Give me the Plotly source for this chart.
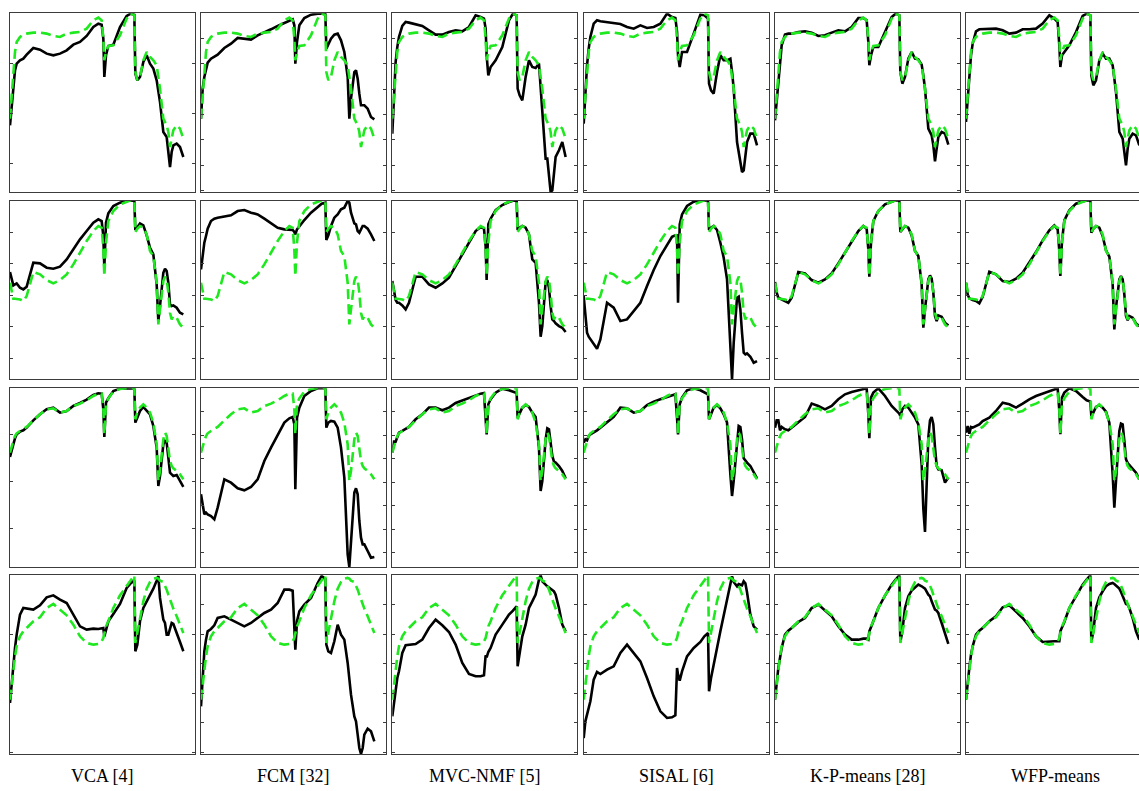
import numpy as np
import plotly.graph_objects as go

# ---------------- data ----------------
METHODS = ["VCA [4]", "FCM [32]", "MVC-NMF [5]", "SISAL [6]", "K-P-means [28]", "WFP-means"]

# spectral band positions (common sampling of all signatures)
BANDS = [0, 5, 10, 15, 20, 30, 40, 50, 70, 90, 110, 130, 150, 170, 190, 210, 230, 250,
         265, 275, 280, 283, 288, 295, 310, 330, 350, 362, 373, 376, 382, 390,
         400, 410, 420, 430, 440, 445, 450, 460, 465, 470, 475, 480, 485, 490, 500, 510, 520]

# ---- endmember 1 (row 1) ----
REF_R1 = [44, 56, 72, 84, 90, 93, 94.4, 95, 95.6, 95.6, 95, 93.6, 93, 95, 95.6, 96, 98, 103,
          104.6, 103, 92, 79, 84, 87.6, 88, 94, 104, 107, 106, 72, 67, 69,
          79, 84, 81, 79, 76, 69, 62, 44, 42, 40, 36, 27, 32, 37, 40, 38, 32]
VCA_R1 = [40, 52, 66, 73, 77, 79, 80, 82.4, 86.4, 85.4, 83, 82, 83, 85, 88.4, 90, 93.6, 99,
          101, 100.4, 92, 69, 82, 87.6, 88.4, 99, 105.6, 107, 106.4, 71, 67, 69,
          78, 82, 77, 74, 67, 60, 54, 36, 34, 33, 24, 15, 24, 28, 29, 27, 21]
FCM_R1 = [44, 62, 69, 74, 77.6, 80, 81, 82.4, 86.4, 89, 92.4, 92, 91.4, 94, 95.6, 97.6, 99.6, 101.6,
          103, 103.6, 100, 77, 90, 100, 104.4, 106.4, 107, 107, 107, 86, 88.4, 92,
          94.4, 95, 91, 84, 69, 44, 56, 72, 73, 68, 59, 52, 52, 52, 50, 45, 43.6]
MVC_R1 = [35, 62, 78, 87, 93, 99.6, 102, 101.6, 100.4, 99.6, 97, 94.4, 94.4, 96, 97, 96.4, 99, 106,
          105, 104, 98, 82, 70, 75, 79, 87, 103, 107, 106, 62, 58, 55,
          69, 79, 75, 74.4, 77, 64, 48, 20, 20, 8, 0, 1, 11, 21, 25, 30, 21]
SISAL_R1 = [41, 60, 76, 86, 93, 101, 103, 102.4, 102, 101.6, 100.8, 99, 98, 100, 98.4, 99, 101, 107,
            105, 104.4, 96, 82, 75, 84, 84, 95, 106.4, 106, 104, 65, 61, 59,
            72, 82, 79, 79, 80, 72, 62, 30, 24, 18, 12, 13, 24, 30, 35, 35, 28]
KP_R1 = [43, 55, 68, 79, 88, 94.4, 95, 95, 96, 96.4, 95.6, 93.6, 94, 95.6, 97, 96.4, 99, 104.4,
         104.4, 103, 90, 76, 82, 87, 87, 96, 105, 107, 106, 72, 65, 69,
         80, 84, 80, 79.6, 76.4, 70, 62, 38, 36, 34, 28, 18.4, 26, 33, 36, 35, 28.4]
WFP_R1 = [42, 55, 70, 82, 89, 96.4, 97.6, 97.6, 97.6, 98, 97, 95, 95.6, 97.6, 97.6, 98, 101, 106,
          104, 102, 88, 75, 82, 84, 88, 96, 105.6, 107, 106, 70, 64, 67,
          79, 83, 80, 80, 76, 68, 60, 36, 34, 32, 24, 16, 26, 32, 35, 34, 28]

# ---- endmember 2 (row 2) ----
REF_R2 = [58, 52, 48.4, 48.4, 48.4, 48, 47, 50, 64.4, 63, 59.6, 57.6, 59.6, 63, 69, 76, 83, 89,
          92, 91, 78, 62, 82, 95, 101, 105, 106.6, 107.4, 107.4, 88.4, 90.4, 92,
          91, 87, 77, 74, 58, 33, 42, 59, 61.6, 60, 52, 40, 36, 38, 37, 33, 31]
VCA_R2 = [64.4, 59.6, 56.4, 57, 57.6, 55, 54, 55.6, 70, 69.6, 67, 66.4, 67.6, 72, 78, 84, 89, 94,
          96, 95, 86, 67, 94, 99.6, 104, 106, 107.2, 107.4, 107.4, 89.6, 91.6, 93.6,
          92.4, 86.4, 79, 75, 57, 35, 44, 64, 66.4, 65, 58, 45, 44, 44.4, 43, 40, 39]
FCM_R2 = [66, 76, 82, 86, 90.4, 95, 96.4, 97, 97.6, 98.4, 101, 101.6, 100, 99, 96.4, 93.6, 91, 90,
          90, 89.6, 88.4, 87, 90, 92, 95.6, 100, 103.6, 105.4, 106, 83.6, 86.4, 92,
          97, 99, 102, 103, 107, 106, 100, 93.6, 93, 89, 88, 89.6, 92, 92, 90.4, 87, 83]
MVC_R2 = [59, 52, 47.6, 46, 46, 44.4, 42, 46, 61.6, 61.6, 57, 55, 57.6, 61, 68, 75, 82, 89,
          91.4, 90.4, 80, 59.6, 93, 96.4, 101.6, 104.6, 106.4, 107.2, 107.4, 89.6, 91, 92,
          91, 87, 72, 70, 46, 25.6, 32, 58.4, 59.6, 55, 44, 36, 35, 33.6, 32, 31, 28.4]
SISAL_R2 = [50, 40, 28, 25.6, 24, 21, 18.4, 24, 46, 43, 35, 36, 41, 46, 56, 65.6, 74, 81,
            85.6, 86.4, 86.4, 46, 93, 99, 104, 106.6, 107.4, 107.4, 107.4, 89.6, 91, 92,
            89.6, 82, 73, 60, 18, 0, 22, 49, 49.6, 42, 28, 16, 15, 15.6, 13.6, 10, 11]
KP_R2 = [58.4, 52, 49, 48.4, 48, 47, 46, 49, 64.4, 63.6, 59.6, 58, 60, 63.6, 69.6, 76, 83, 89,
         92, 90.4, 78, 61.6, 82, 95, 101, 105, 106.6, 107.4, 107.4, 88.4, 90, 92,
         91, 86.4, 77, 74, 57, 31, 42, 60, 62.4, 60.4, 52, 38, 35, 38.4, 37.6, 34, 32.4]
WFP_R2 = [58, 51, 48.6, 48, 47.6, 47, 45.6, 49.6, 64.6, 63, 59, 58.4, 60.4, 64, 70, 76.4, 83.4, 89.4,
          92.4, 90, 77, 62, 83, 95.4, 101.4, 105.4, 106.8, 107.4, 107.4, 88, 90.4, 92,
          91, 86, 77.4, 73.6, 57, 30, 43, 60, 62, 60, 51, 38, 35.4, 38, 37, 33.6, 32]

# ---- endmember 3 (row 3) ----
REF_R3 = [68.6, 72.6, 75.6, 78.6, 80.2, 81.6, 82.6, 84, 88, 91.6, 94.6, 95.2, 92.6, 93.6, 96.6, 98, 100, 102.6,
          104, 104, 94.6, 79.6, 98, 101.2, 105.2, 106.8, 107.2, 107.2, 107.2, 88.6, 92.6, 95.6,
          97.6, 95.6, 92.6, 86.6, 73.6, 51.6, 57.6, 76.6, 80.6, 78.6, 71.6, 63.6, 60.6, 59.2, 57.6, 55.6, 52.6]
VCA_R3 = [66, 70.6, 73.6, 77.2, 79.6, 81.2, 82, 83.6, 88, 91.6, 94.6, 95.6, 92.6, 93.6, 96.6, 98.4, 100.4, 103.2,
          104.2, 104, 94.6, 78, 98.6, 101.2, 105.6, 107, 107.2, 107.2, 107.2, 86.6, 89.6, 93.6,
          96, 94, 91.6, 84.6, 71.6, 48.6, 54.6, 73.6, 75.6, 74.6, 65.6, 56.6, 55.6, 54.6, 55.2, 51.6, 48]
FCM_R3 = [43.6, 36.6, 31.6, 32.6, 31.6, 30.6, 28.6, 35.6, 52.6, 50.6, 47.2, 46, 48, 52.6, 63.6, 71.6, 79.6, 86.6,
          89.2, 90, 85.6, 46.6, 89.6, 95.6, 102.6, 105.6, 107.2, 107.2, 107.2, 83.6, 86.6, 87.6,
          87.2, 83.6, 71.6, 53.6, 7.6, 0, 15.6, 44.6, 47.2, 43.6, 27.6, 17.6, 13.6, 13.6, 9.6, 5.6, 6]
MVC_R3 = [68.6, 75.2, 75.2, 78, 80.6, 81.6, 82.6, 84, 88.6, 91.6, 95.6, 95.6, 94, 95.6, 98.4, 100, 101.6, 103.2,
          104, 104.4, 91.6, 79.6, 97.6, 100.6, 104.6, 107, 106, 105.2, 104.4, 89.6, 92.6, 95.6,
          97.2, 96, 92.6, 90, 71.6, 45.6, 51.6, 76.6, 83.2, 82.6, 74.6, 66.6, 63.2, 62.6, 60.6, 57.6, 53.2]
SISAL_R3 = [74.6, 76.6, 76, 78.6, 79.6, 80.6, 82, 83.6, 86.6, 90, 95.6, 95.2, 92.6, 93.6, 97.2, 99.2, 100.6, 102,
            103.2, 103.6, 89.6, 79.6, 97.6, 101.6, 106, 107.2, 106, 104.6, 103.6, 88.6, 91.6, 95.6,
            97.2, 95.2, 91.6, 86.6, 55.6, 42.6, 51.6, 74.6, 84.6, 84, 76.6, 65.2, 63.6, 62.6, 60.6, 56.6, 53.2]
KP_R3 = [83.6, 88, 88, 82, 84, 82.6, 82, 83.6, 86.6, 90, 98, 96.6, 94.6, 96.6, 100.6, 103.6, 105, 106,
         106.6, 107.2, 91.6, 77.2, 101.6, 104.6, 107.2, 102.6, 96.6, 94, 92, 90.6, 94.6, 96.6,
         95.6, 92.6, 89.6, 85.6, 61.6, 35, 21, 77.6, 88, 90, 85.6, 71.6, 60.6, 58.6, 58, 50.6, 53.6]
WFP_R3 = [80.6, 84.6, 80, 84, 83.6, 84.6, 85.6, 87.6, 89.6, 93.6, 98.6, 97.6, 95.6, 98, 100.6, 102.6, 104, 105.6,
          106.6, 107.2, 93.6, 79.6, 101.6, 104.6, 107.2, 105.6, 102, 100, 99.2, 90.6, 92.6, 96,
          97.2, 95.6, 93.2, 86.6, 55.6, 35.6, 51.6, 81.6, 86, 85.6, 75.6, 64.6, 62.4, 61.2, 59.2, 56.6, 52.6]

# ---- endmember 4 (row 4) ----
REF_R4 = [32.6, 41.6, 51.6, 58.6, 64.6, 70.6, 73.6, 75.6, 79.6, 82, 87.6, 90, 86.6, 83.2, 77.6, 70.6, 66.6, 65.6,
          66, 67.6, 69.6, 72.6, 76.6, 79.6, 87.6, 95.2, 100.6, 104, 107.2, 66.6, 72.6, 81.6,
          91.6, 99.2, 103.2, 105.2, 105.6, 105.2, 104, 103.2, 101.2, 98.6, 95.6, 92.6, 89.6, 87.2, 82.6, 77.6, 72.6]
VCA_R4 = [30.6, 41.6, 56.6, 63.6, 71.6, 83.6, 87.6, 87.2, 86.6, 89.2, 94, 95.2, 92.6, 90.6, 83.6, 76.6, 74.6, 75.2,
          75, 75.2, 75.6, 70.6, 74.6, 79.6, 84, 90, 99.6, 102.4, 104, 61.6, 65.6, 79.6,
          87.6, 91.6, 94.6, 99.2, 104, 106.8, 93.6, 80.6, 78.6, 71.6, 71.6, 76, 78.6, 78, 72, 67.2, 61.6]
FCM_R4 = [28.6, 45.6, 61.6, 68.6, 73.6, 75, 77.2, 81.6, 82.6, 80.6, 78.6, 76.6, 78.6, 81.6, 84.6, 86.6, 90.6, 98.6,
          98.6, 98, 71.6, 62.6, 79.6, 85.6, 89.6, 93.6, 102.6, 106.8, 105, 65.6, 61.6, 60.6,
          67.6, 77.6, 71.6, 68.6, 54.6, 45.6, 35.6, 22.6, 19.6, 11.6, 3.6, 0, 3.6, 11.6, 15.2, 13.6, 7.6]
MVC_R4 = [22.6, 31.6, 39.6, 45.6, 49.6, 60.6, 65.2, 65.6, 66, 68.6, 75.6, 80.6, 77.2, 73.2, 65.6, 54.6, 48, 46.6,
          46.6, 47.2, 59.2, 58, 61.2, 63.6, 71.6, 77.6, 83.6, 86, 88.6, 52.6, 60.6, 70.6,
          77.6, 87.6, 91.6, 95.6, 104.6, 107.2, 103.6, 101.2, 100.6, 99.8, 99, 98.6, 97.6, 95.6, 87.6, 77.6, 73.6]
SISAL_R4 = [9.6, 19.6, 23.6, 27.6, 31.6, 44.6, 49.2, 48, 50.6, 52.6, 60.6, 65.6, 60.6, 55.6, 45.6, 34.6, 25.6, 21.6,
            22, 23.2, 51.6, 47.6, 44, 49.6, 58.6, 63.6, 67.2, 70.6, 72.6, 37.6, 45.6, 54.6,
            63.6, 73.6, 83.6, 91.6, 101.6, 106.6, 103.2, 100.6, 102, 101.6, 101.2, 103.6, 102.4, 97, 83.6, 76.6, 74.6]
KP_R4 = [32.6, 42.6, 51.6, 57.6, 63.6, 71.6, 74, 75.6, 79.2, 81.6, 87.6, 89.6, 86, 82.6, 76.6, 71.6, 68.6, 68.6,
         69.2, 69.2, 68.6, 73.6, 76, 79.6, 87.6, 95, 101.6, 104.6, 107.2, 67.2, 73.6, 87.6,
         94.6, 98, 100, 101.6, 100.6, 100, 99.2, 95.6, 94.6, 91.6, 88.6, 86.6, 86, 84.6, 78.6, 71.6, 66]
WFP_R4 = [32.6, 43.6, 51.6, 59.6, 64.6, 71.6, 74, 75.6, 79.6, 82.6, 88, 89.2, 85.6, 81.6, 76.6, 70.6, 67.2, 67.6,
          67.6, 67.6, 67.6, 73.6, 76, 79.2, 87.6, 95, 101.6, 104.6, 107.2, 67.2, 73.6, 87.6,
          94, 97.6, 100.6, 102, 102.6, 102, 101.2, 99.2, 97.2, 94.6, 92, 90, 89.6, 87.6, 81.6, 73.6, 68.6]

REFERENCE = [REF_R1, REF_R2, REF_R3, REF_R4]
ESTIMATES = [
    [VCA_R1, FCM_R1, MVC_R1, SISAL_R1, KP_R1, WFP_R1],
    [VCA_R2, FCM_R2, MVC_R2, SISAL_R2, KP_R2, WFP_R2],
    [VCA_R3, FCM_R3, MVC_R3, SISAL_R3, KP_R3, WFP_R3],
    [VCA_R4, FCM_R4, MVC_R4, SISAL_R4, KP_R4, WFP_R4],
]

# y tick step per panel (row x column)
TICK_STEP = [
    [30.0, 15.2, 15.2, 15.2, 15.2, 15.2],
    [18.9, 18.9, 18.9, 18.9, 18.9, 18.9],
    [28.0, 14.1, 14.1, 14.1, 14.1, 14.1],
    [35.4, 17.7, 17.7, 17.7, 17.7, 17.7],
]

# ---------------- layout ----------------
W, H = 1139, 791
COL_LEFT = [10, 201, 392.3, 583.7, 775, 966]
ROW_TOP = [13.3, 200.7, 388.3, 575.3]
PANEL_W = 185
PANEL_H = 178.7
X_SPAN = 555
Y_TOP = 107.2
GREEN = "rgb(30,232,30)"
FRAME = "#3c3c3c"

fig = go.Figure()
for r in range(4):
    for c in range(6):
        k = r * 6 + c + 1
        xa = "x" if k == 1 else f"x{k}"
        ya = "y" if k == 1 else f"y{k}"
        xname = "xaxis" if k == 1 else f"xaxis{k}"
        yname = "yaxis" if k == 1 else f"yaxis{k}"
        right_px = COL_LEFT[c] + PANEL_W
        cut = right_px > W
        x0 = COL_LEFT[c] / W
        x1 = 1.0 if cut else right_px / W
        xmax = X_SPAN * (W - COL_LEFT[c]) / PANEL_W if cut else X_SPAN
        y1 = 1 - ROW_TOP[r] / H
        y0 = 1 - (ROW_TOP[r] + PANEL_H) / H

        fig.add_trace(go.Scatter(x=BANDS, y=ESTIMATES[r][c], xaxis=xa, yaxis=ya, mode="lines",
                                 line=dict(color="black", width=2.6), showlegend=False,
                                 hoverinfo="skip"))
        fig.add_trace(go.Scatter(x=BANDS, y=REFERENCE[r], xaxis=xa, yaxis=ya, mode="lines",
                                 line=dict(color=GREEN, width=2.6, dash="10px,5px"),
                                 showlegend=False, hoverinfo="skip"))

        step = TICK_STEP[r][c]
        tv = list(np.arange(Y_TOP, -0.5, -step))
        fig.update_layout(**{
            xname: dict(domain=[x0, x1], range=[0, xmax], anchor=ya, showline=True,
                        linecolor=FRAME, linewidth=1, mirror=True, ticks="",
                        showticklabels=False, showgrid=False, zeroline=False, fixedrange=True),
            yname: dict(domain=[y0, y1], range=[0, Y_TOP], anchor=xa, showline=True,
                        linecolor=FRAME, linewidth=1, mirror=False if cut else "ticks",
                        ticks="inside", ticklen=3, tickwidth=1, tickcolor=FRAME,
                        tickvals=tv, showticklabels=False, showgrid=False, zeroline=False,
                        fixedrange=True),
        })

LABEL_X = [102.5, 293, 485, 676, 867, 1055]
for c, name in enumerate(METHODS):
    fig.add_annotation(x=LABEL_X[c] / W, y=1 - 776 / H, xref="paper", yref="paper",
                       text=name, showarrow=False, xanchor="center", yanchor="middle",
                       font=dict(family="Liberation Serif, Times New Roman, serif", size=18,
                                 color="black"))

fig.update_layout(width=W, height=H, margin=dict(l=0, r=0, t=0, b=0),
                  paper_bgcolor="white", plot_bgcolor="white", showlegend=False)

fig.write_html("out.html")
